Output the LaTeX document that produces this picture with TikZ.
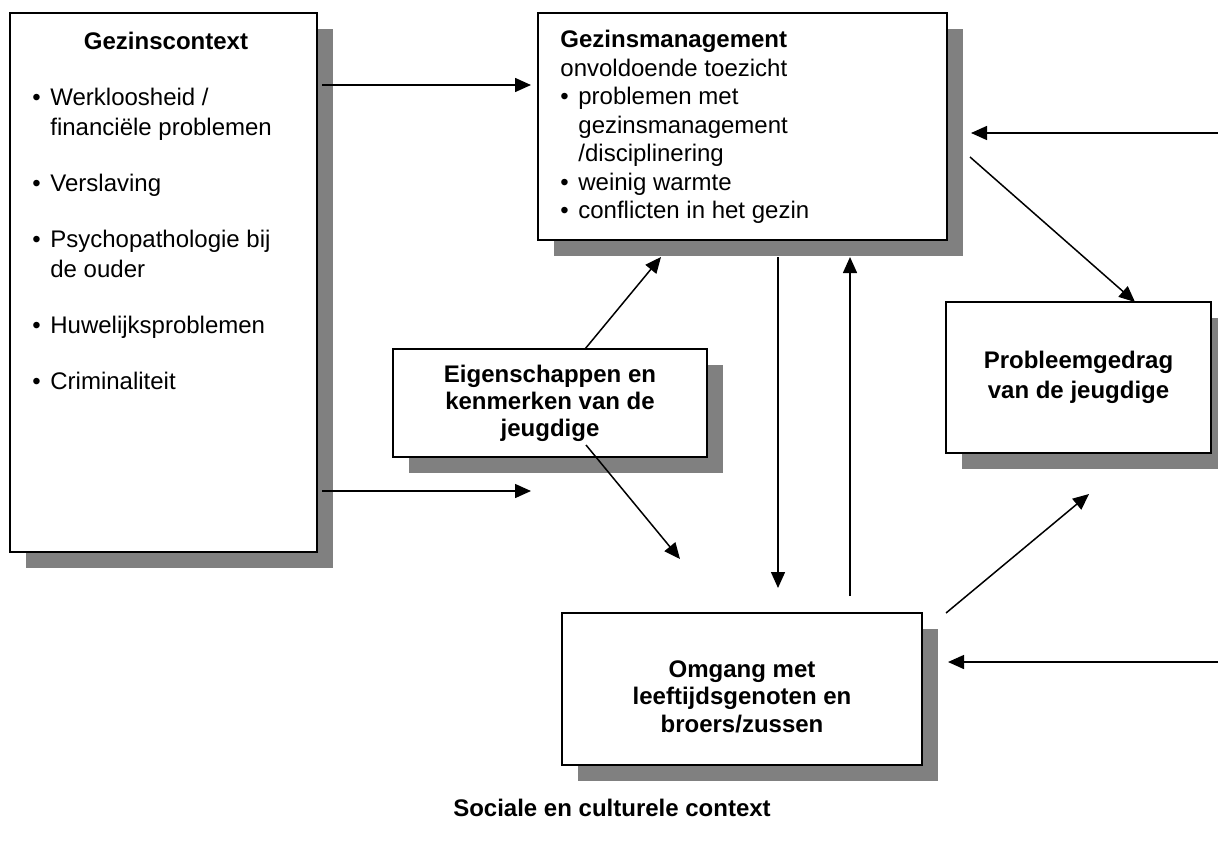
\documentclass[tikz,border=0pt,12pt]{standalone}
\usepackage{fontspec}
\setmainfont{Liberation Sans}
\usetikzlibrary{arrows.meta,shadows}
\newcommand{\bul}{\makebox[9pt][l]{\textbullet}}
\newcommand{\inspr}{\hspace*{9pt}}
\begin{document}
\begin{tikzpicture}[x=0.5pt,y=-0.5pt,
    kader/.style={draw,line width=1pt,fill=white,anchor=north west,inner sep=0pt,outer sep=0pt,
      align=center,font=\fontsize{12}{13.5}\selectfont\bfseries,
      drop shadow={shadow xshift=8pt,shadow yshift=-8pt,fill=gray,opacity=1}},
    lijst/.style={anchor=north west,align=left,inner sep=0pt},
    pijl/.style={line width=0.75pt,-{Triangle[length=8pt,width=7pt]}}]
  \useasboundingbox (0,0) rectangle (1218,841);
  \node[kader,minimum width=153.5pt,minimum height=269.5pt] (gezin) at (10,13) {};
  \node[kader,minimum width=204.5pt,minimum height=113.5pt] (beheer) at (538,13) {};
  \node[kader,minimum width=157pt,minimum height=54pt] (eigen) at (393,349)
    {Eigenschappen en\\kenmerken van de\\jeugdige};
  \node[kader,minimum width=132.5pt,minimum height=75.5pt,
    font=\fontsize{12}{15}\selectfont\bfseries] (gedrag) at (946,302)
    {Probleemgedrag\\van de jeugdige};
  \node[kader,minimum width=180pt,minimum height=76pt,
    font=\fontsize{12}{13.75}\selectfont\bfseries] (omgang) at (562,613)
    {\rule{0pt}{16pt}Omgang met\\leeftijdsgenoten en\\broers/zussen};

  \node[anchor=base,font=\bfseries] (gezinkop) at (166,49) {Gezinscontext};
  \node[lijst,font=\fontsize{12}{15}\selectfont] (gezinlijst) at (32,88)
    {\bul Werkloosheid /\\\inspr financiële problemen\\[13pt]\bul Verslaving\\[13pt]
     \bul Psychopathologie bij\\\inspr de ouder\\[13pt]\bul Huwelijksproblemen\\[13pt]
     \bul Criminaliteit};
  \node[lijst,font=\fontsize{12}{14.25}\selectfont] (beheerlijst) at (560,30)
    {\textbf{Gezinsmanagement}\\onvoldoende toezicht\\\bul problemen met\\
     \inspr gezinsmanagement\\\inspr /disciplinering\\\bul weinig warmte\\
     \bul conflicten in het gezin};
  \node[anchor=base,font=\bfseries] (sociaal) at (612,816) {Sociale en culturele context};

  \coordinate (rand1) at (1218,133);
  \coordinate (rand2) at (1218,662);

  \draw[pijl] ([shift={(5,72)}]gezin.north east) -- ([shift={(-7,72)}]beheer.north west);
  \draw[pijl] ([shift={(5,-61)}]gezin.south east) -- ++(209,0);
  \draw[pijl] (rand1) -- ([shift={(24,120)}]beheer.north east);
  \draw[pijl] ([shift={(23,144)}]beheer.north east) -- ([shift={(189,0)}]gedrag.north west);
  \draw[pijl] ([shift={(192,0)}]eigen.north west) -- ([shift={(123,17)}]beheer.south west);
  \draw[pijl] ([shift={(193,-12)}]eigen.south west) -- ([shift={(118,-54)}]omgang.north west);
  \draw[pijl] ([shift={(240,17)}]beheer.south west) -- ([shift={(216,-25)}]omgang.north west);
  \draw[pijl] ([shift={(288,-17)}]omgang.north west) -- ([shift={(312,17)}]beheer.south west);
  \draw[pijl] ([shift={(24,0)}]omgang.north east) -- ([shift={(143,41)}]gedrag.south west);
  \draw[pijl] (rand2) -- ([shift={(26,49)}]omgang.north east);
\end{tikzpicture}
\end{document}
